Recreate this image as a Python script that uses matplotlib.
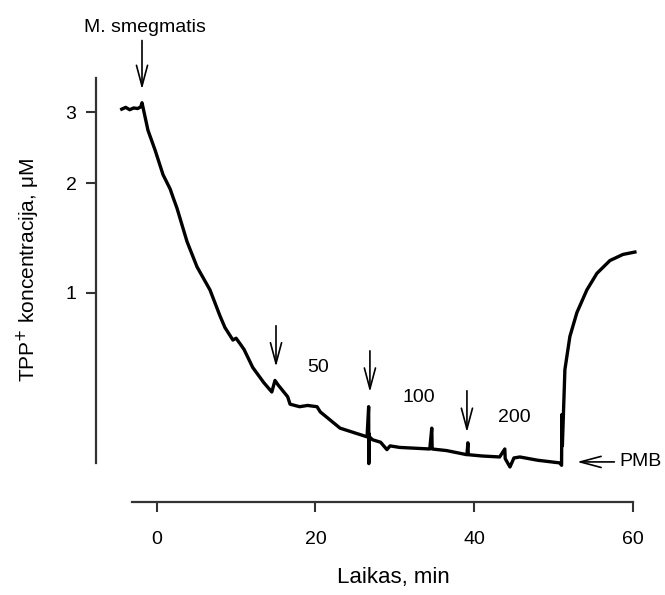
import numpy as np
import matplotlib
matplotlib.use("Agg")
import matplotlib.pyplot as plt

# ---- data ----
time_min = [-4.4, -3.9, -3.4, -2.9, -2.4, -2.0, -1.85, -1.1, -0.2, 0.8, 1.7, 2.05, 2.56,
            3.82, 5.08, 6.71, 7.97, 8.6, 9.6, 10.0, 10.5, 11.0, 12.1, 13.5, 14.5,
            14.9, 15.3, 16.5, 16.8, 18.0, 19.0, 20.2, 20.6, 23.1, 26.5, 26.7, 26.72,
            26.76, 26.8, 27.2, 28.2, 29.0, 29.4, 30.6, 34.4, 34.65, 34.7, 36.5, 39.08,
            39.2, 39.25, 41.0, 43.2, 43.85, 43.9, 44.5, 45.0, 45.75, 48.0, 50.79,
            51.0, 51.04, 51.1, 51.42, 52.05, 52.93, 54.19, 55.45, 57.09, 58.73, 60.24]
conc_uM = [3.05, 3.08, 3.04, 3.07, 3.06, 3.09, 3.16, 2.71, 2.42, 2.1, 1.93, 1.84, 1.72,
           1.40, 1.19, 1.02, 0.85, 0.78, 0.71, 0.72, 0.69, 0.66, 0.57, 0.50, 0.46,
           0.51, 0.49, 0.44, 0.41, 0.40, 0.405, 0.40, 0.38, 0.32, 0.29, 0.40, 0.205,
           0.30, 0.29, 0.28, 0.272, 0.248, 0.26, 0.255, 0.25, 0.32, 0.25, 0.245, 0.232,
           0.27, 0.232, 0.228, 0.225, 0.25, 0.22, 0.195, 0.222, 0.225, 0.215, 0.207,
           0.20, 0.37, 0.26, 0.56, 0.73, 0.87, 1.02, 1.14, 1.24, 1.29, 1.31]

x_ticks = [0, 20, 40, 60]
y_ticks = [1, 2, 3]

# annotation markers: (time, label)
additions_t = [15.03, 26.86, 39.08]
addition_labels = ["50", "100", "200"]

C = 0.4
fwd = lambda y: np.log10(np.asarray(y) + C)
inv = lambda v: 10 ** np.asarray(v) - C

plt.rcParams['font.family'] = ['Liberation Sans', 'DejaVu Sans']

fig = plt.figure(figsize=(6.65, 5.95), dpi=100)
ax = fig.add_axes([96/665, 1-502/595, 544/665, (502-78)/595])
ax.set_yscale('function', functions=(fwd, inv))

ax.plot(time_min, conc_uM, color='black', lw=2.4, solid_joinstyle='round')

ax.set_xlim(-7.645, 60.88)
ax.set_ylim(0.101, 3.62)

for s in ['top', 'right']:
    ax.spines[s].set_visible(False)
ax.spines['left'].set_bounds(0.207, 3.62)
ax.spines['bottom'].set_bounds(-3.15, 60)
for s in ['left', 'bottom']:
    ax.spines[s].set_linewidth(1.6)
    ax.spines[s].set_color('#333333')

ax.set_xticks(x_ticks)
ax.set_yticks(y_ticks)
ax.set_yticklabels([str(v) for v in y_ticks])
ax.yaxis.set_minor_locator(matplotlib.ticker.NullLocator())
ax.tick_params(direction='out', length=7, width=1.5, color='#333333', labelsize=14)
ax.tick_params(axis='x', pad=14)
ax.tick_params(axis='y', pad=7)

ax.set_xlabel('Laikas, min', fontsize=16)
ax.xaxis.set_label_coords((393-96)/544, -(578-502)/424)
ax.xaxis.label.set_va('center')
ax.set_ylabel('TPP$^{+}$ koncentracija, μM', fontsize=15)
ax.yaxis.set_label_coords(-(96-28)/544, (502-270)/424)
ax.yaxis.label.set_va('center')

arrow_kw = dict(arrowstyle='->,head_length=1.5,head_width=0.4', color='black', lw=1.2)

# M. smegmatis arrow
ax.annotate('', xy=(-1.85, 3.35), xytext=(-1.85, 4.5), arrowprops=arrow_kw,
            annotation_clip=False)
fig.text(145/665, 1-28/595, 'M. smegmatis', ha='center', va='center', fontsize=14)

# addition arrows
arrow_tops = [0.807, 0.667, 0.477]
arrow_tips = [0.56, 0.448, 0.296]
for xt, y0, y1 in zip(additions_t, arrow_tops, arrow_tips):
    ax.annotate('', xy=(xt, y1), xytext=(xt, y0), arrowprops=arrow_kw)

label_pos = [(20.3, 0.57), (33.0, 0.435), (45.1, 0.357)]
for (lx, ly), lab in zip(label_pos, addition_labels):
    ax.text(lx, ly, lab, ha='center', va='center', fontsize=14)

# PMB arrow
ax.annotate('', xy=(52.6, 0.21), xytext=(58.0, 0.21), arrowprops=arrow_kw,
            annotation_clip=False)
ax.text(58.3, 0.21, 'PMB', ha='left', va='center', fontsize=14, clip_on=False)

fig.savefig('out.png', dpi=100)
